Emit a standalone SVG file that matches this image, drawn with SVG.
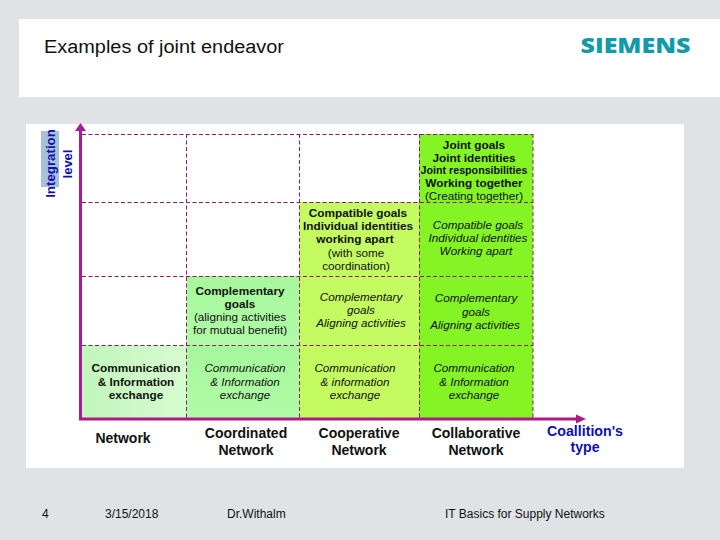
<svg xmlns="http://www.w3.org/2000/svg" width="720" height="540" viewBox="0 0 720 540">
<defs>
<linearGradient id="g1" x1="0" y1="0" x2="1" y2="0"><stop offset="0" stop-color="#c2f6bc"/><stop offset="1" stop-color="#d6fccf"/></linearGradient>
<linearGradient id="g2" x1="0" y1="0" x2="0" y2="1"><stop offset="0" stop-color="#a6f89a"/><stop offset="1" stop-color="#b0fca8"/></linearGradient>
</defs>
<style>
text{font-family:"Liberation Sans",Arial,sans-serif;text-anchor:middle;fill:#111}
.b{font-size:11.8px;font-weight:bold}
.n{font-size:11.7px}
.i{font-size:11.7px;font-style:italic}
.f{font-size:12px;text-anchor:start}
.h{font-size:14px;font-weight:bold}
.blue{fill:#1010b0;font-size:14.2px;font-weight:bold}
.grid{fill:none;stroke:#8a1c6a;stroke-width:1;stroke-dasharray:4 2.5}
.axis{fill:none;stroke-width:3}
</style>
<rect width="720" height="540" fill="#dfe3e6"/>
<rect x="19" y="19" width="701" height="78" fill="#fff"/>
<rect x="26" y="124" width="658" height="344" fill="#fff"/>
<text x="44" y="53" style="font-size:18px;text-anchor:start" textLength="240" lengthAdjust="spacingAndGlyphs">Examples of joint endeavor</text>
<text id="logo" x="635.500" y="53" style="font-size:21.5px;font-weight:800;fill:#119aa8;font-family:'Open Sans','Liberation Sans',sans-serif" textLength="110" lengthAdjust="spacingAndGlyphs">SIEMENS</text>
<rect x="41" y="131" width="18" height="56" fill="#a9c0da"/>

<g id="cells">
<rect id="c-network" x="81" y="345" width="105.500" height="73" fill="url(#g1)"/>
<rect id="c-coord2" x="186.500" y="345" width="112.500" height="73" fill="url(#g2)"/>
<rect id="c-coord1" x="186.500" y="276" width="112.500" height="69" fill="url(#g2)"/>
<rect id="c-coop3" x="299" y="202" width="120" height="74" fill="#c4fb60"/>
<rect id="c-coop2" x="299" y="276" width="120" height="69" fill="#c4fb60"/>
<rect id="c-coop1" x="299" y="345" width="120" height="73" fill="#c4fb60"/>
<rect id="c-col4" x="419" y="134" width="114" height="68" fill="#84f424"/>
<rect id="c-col3" x="419" y="202" width="114" height="74" fill="#84f424"/>
<rect id="c-col2" x="419" y="276" width="114" height="69" fill="#84f424"/>
<rect id="c-col1" x="419" y="345" width="114" height="73" fill="#84f424"/>
</g>

<g id="connectors">
<path class="grid" d="M82 134.500H533M82 202.500H533M82 276.500H533M82 345.500H533M186.500 134V418M299.500 134V418M419.500 134V418M533 134V418"/>
<path class="axis" stroke="#a81c9c" d="M80.500 420V130"/>
<path class="axis" stroke="#b01888" d="M79 419H578"/>
<polygon points="80.500,123 75,131 86,131" fill="#a81c9c"/>
<polygon points="586,419 576,414.500 576,423.500" fill="#b01888"/>
</g>

<g id="labels">
<text class="blue" transform="translate(54.500 163.500) rotate(-90)" style="font-size:13.300px">Integration</text>
<text class="blue" transform="translate(71.500 164) rotate(-90)" style="font-size:13px">level</text>
<text class="blue" x="585" y="436">Coallition's</text>
<text class="blue" x="585" y="452">type</text>
<text class="h" x="123" y="443">Network</text>
<text class="h" x="246" y="438">Coordinated</text>
<text class="h" x="246" y="455">Network</text>
<text class="h" x="359" y="438">Cooperative</text>
<text class="h" x="359" y="455">Network</text>
<text class="h" x="476" y="438">Collaborative</text>
<text class="h" x="476" y="455">Network</text>
</g>

<g id="t-col4">
<text class="b" x="474" y="149">Joint goals</text>
<text class="b" x="474" y="162">Joint identities</text>
<text class="b" x="474" y="174" style="font-size:10.7px">Joint responsibilities</text>
<text class="b" x="474" y="187">Working together</text>
<text class="n" x="474" y="200">(Creating together)</text>
</g>
<g id="t-coop3">
<text class="b" x="358" y="217">Compatible goals</text>
<text class="b" x="358" y="230">Individual identities</text>
<text class="b" x="355" y="243">working apart</text>
<text class="n" x="356" y="257">(with some</text>
<text class="n" x="356" y="270">coordination)</text>
</g>
<g id="t-col3">
<text class="i" x="478" y="229">Compatible goals</text>
<text class="i" x="478" y="242">Individual identities</text>
<text class="i" x="476" y="255">Working apart</text>
</g>
<g id="t-coord1">
<text class="b" x="240" y="295">Complementary</text>
<text class="b" x="240" y="308">goals</text>
<text class="n" x="240" y="321">(aligning activities</text>
<text class="n" x="240" y="334">for mutual benefit)</text>
</g>
<g id="t-coop2">
<text class="i" x="361" y="301">Complementary</text>
<text class="i" x="361" y="314">goals</text>
<text class="i" x="361" y="327">Aligning activities</text>
</g>
<g id="t-col2">
<text class="i" x="476" y="302">Complementary</text>
<text class="i" x="476" y="316">goals</text>
<text class="i" x="475" y="329">Aligning activities</text>
</g>
<g id="t-network">
<text class="b" x="136" y="372">Communication</text>
<text class="b" x="136" y="386">&amp; Information</text>
<text class="b" x="136" y="399">exchange</text>
</g>
<g id="t-coord2">
<text class="i" x="245" y="372">Communication</text>
<text class="i" x="245" y="386">&amp; Information</text>
<text class="i" x="245" y="399">exchange</text>
</g>
<g id="t-coop1">
<text class="i" x="355" y="372">Communication</text>
<text class="i" x="355" y="386">&amp; information</text>
<text class="i" x="355" y="399">exchange</text>
</g>
<g id="t-col1">
<text class="i" x="474" y="372">Communication</text>
<text class="i" x="474" y="386">&amp; Information</text>
<text class="i" x="474" y="399">exchange</text>
</g>

<g id="footer">
<text class="f" x="42" y="518">4</text>
<text class="f" x="105" y="518">3/15/2018</text>
<text class="f" x="227" y="518">Dr.Withalm</text>
<text class="f" x="445" y="518">IT Basics for Supply Networks</text>
</g>
</svg>
